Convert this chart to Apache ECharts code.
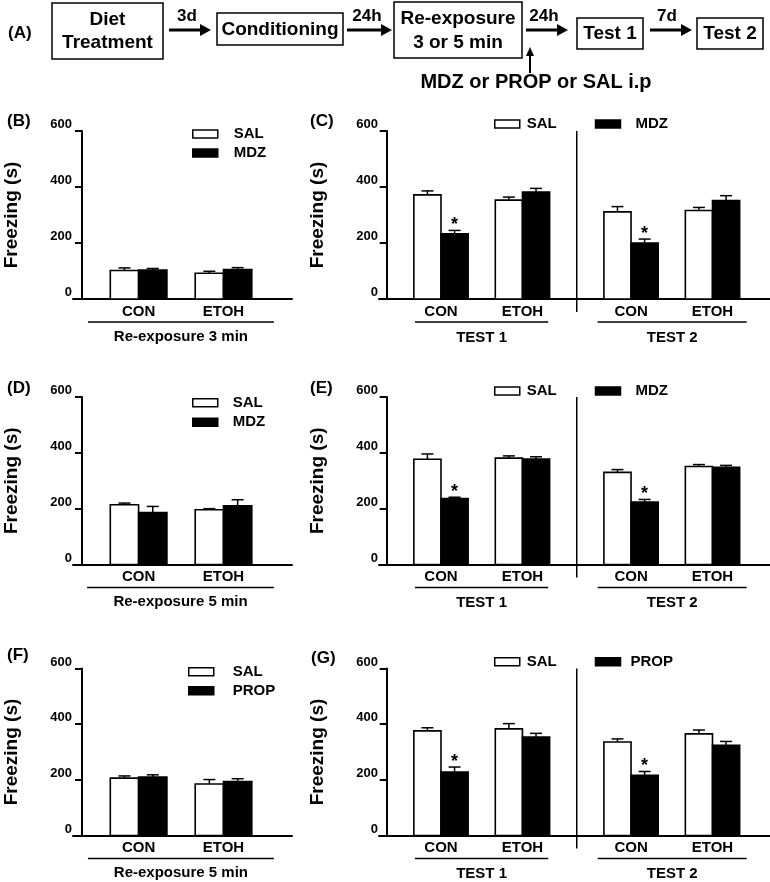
<!DOCTYPE html>
<html><head><meta charset="utf-8">
<script src="https://cdn.jsdelivr.net/npm/echarts@6/dist/echarts.min.js"></script>
<style>html,body{margin:0;padding:0;background:#fff}#c{width:770px;height:882px}</style>
</head><body><div id="c"></div>
<script>
// ---------------- data ----------------
const groups = ['CON', 'ETOH'];
const testNames = ['TEST 1', 'TEST 2'];
const yTicks = [0, 200, 400, 600];
// (B) re-exposure 3 min
const B_SAL = [102, 92], B_SAL_ERR = [9, 7];
const B_MDZ = [103, 105], B_MDZ_ERR = [6, 7];
// (C) order: TEST1 CON, TEST1 ETOH, TEST2 CON, TEST2 ETOH
const C_SAL = [372, 353, 311, 316], C_SAL_ERR = [14, 11, 19, 11];
const C_MDZ = [233, 382, 200, 352], C_MDZ_ERR = [12, 13, 14, 17];
const C_SIG = [1, 0, 1, 0];
// (D) re-exposure 5 min
const D_SAL = [214, 196], D_SAL_ERR = [6, 4];
const D_MDZ = [186, 210], D_MDZ_ERR = [22, 22];
// (E)
const E_SAL = [377, 381, 330, 351], E_SAL_ERR = [19, 8, 10, 7];
const E_MDZ = [236, 378, 224, 348], E_MDZ_ERR = [5, 8, 9, 7];
const E_SIG = [1, 0, 1, 0];
// (F) re-exposure 5 min
const F_SAL = [206, 185], F_SAL_ERR = [8, 16];
const F_PROP = [210, 194], F_PROP_ERR = [8, 10];
// (G)
const G_SAL = [376, 383, 336, 365], G_SAL_ERR = [11, 19, 11, 14];
const G_PROP = [228, 354, 216, 324], G_PROP_ERR = [18, 13, 14, 14];
const G_SIG = [1, 0, 1, 0];

// ---------------- layout ----------------
const FONT = "'Liberation Sans', Arial, Helvetica, sans-serif";
const COL_L = {left: 73, right: 292, axisX: 82, unit: 28.3, centers: [2, 5], titleDy: 37.5};
const COL_R = {left: 379, right: 770, axisX: 386.7, unit: 27.15, centers: [2, 5, 9, 12], sep: 7, titleDy: 38.5};
const ROWS = [{top: 131, h: 168}, {top: 397, h: 167.5}, {top: 668.5, h: 167}];

const panels = [
  {col: COL_L, row: 0, drug: 'MDZ', sal: B_SAL, salErr: B_SAL_ERR, dv: B_MDZ, de: B_MDZ_ERR, sig: null,
   titles: ['Re-exposure 3 min'], spans: [[0.21, 6.78]], lg: {orient: 'vertical', left: 192, top: 126.5, gap: 4, padS: 11, padD: 11}},
  {col: COL_R, row: 0, drug: 'MDZ', sal: C_SAL, salErr: C_SAL_ERR, dv: C_MDZ, de: C_MDZ_ERR, sig: C_SIG,
   titles: testNames, spans: [[1.04, 5.95], [7.77, 13.26]], lg: {orient: 'horizontal', left: 494, top: 116.5, gap: 38, padS: 2, padD: 10}},
  {col: COL_L, row: 1, drug: 'MDZ', sal: D_SAL, salErr: D_SAL_ERR, dv: D_MDZ, de: D_MDZ_ERR, sig: null,
   titles: ['Re-exposure 5 min'], spans: [[0.18, 6.78]], lg: {orient: 'vertical', left: 192, top: 395.2, gap: 4.6, padS: 10, padD: 10}},
  {col: COL_R, row: 1, drug: 'MDZ', sal: E_SAL, salErr: E_SAL_ERR, dv: E_MDZ, de: E_MDZ_ERR, sig: E_SIG,
   titles: testNames, spans: [[1.04, 5.95], [7.77, 13.26]], lg: {orient: 'horizontal', left: 494, top: 383.5, gap: 38, padS: 2, padD: 10}},
  {col: COL_L, row: 2, drug: 'PROP', sal: F_SAL, salErr: F_SAL_ERR, dv: F_PROP, de: F_PROP_ERR, sig: null,
   titles: ['Re-exposure 5 min'], spans: [[0.21, 6.78]], lg: {orient: 'vertical', left: 188, top: 664.2, gap: 4, padS: 14, padD: 14}},
  {col: COL_R, row: 2, drug: 'PROP', sal: G_SAL, salErr: G_SAL_ERR, dv: G_PROP, de: G_PROP_ERR, sig: G_SIG,
   titles: testNames, spans: [[1.04, 5.95], [7.77, 13.26]], lg: {orient: 'horizontal', left: 494, top: 654.2, gap: 38, padS: 2, padD: 5}}
];

const textBase = {fontFamily: FONT, fontWeight: 'bold', color: '#000'};

function barSeries(p, gi, name, vals, errs, fill, offset, sig) {
  const data = vals.map((v, i) => [p.col.centers[i] + offset, v, errs[i], sig ? sig[i] : 0]);
  return {
    type: 'custom', name, xAxisIndex: gi, yAxisIndex: gi, data, encode: {x: 0, y: 1},
    itemStyle: {color: fill, borderColor: '#000', borderWidth: 1.5},
    renderItem(params, api) {
      const x = api.value(0), v = api.value(1), e = api.value(2), s = api.value(3);
      const a = api.coord([x - 0.5, 0]), b = api.coord([x + 0.5, v]), t = api.coord([x, v + e]);
      const ch = [
        {type: 'line', shape: {x1: t[0], y1: b[1], x2: t[0], y2: t[1]}, style: {stroke: '#000', lineWidth: 1.5}},
        {type: 'line', shape: {x1: t[0] - 6, y1: t[1], x2: t[0] + 6, y2: t[1]}, style: {stroke: '#000', lineWidth: 1.5}},
        {type: 'rect', shape: {x: a[0], y: b[1], width: b[0] - a[0], height: a[1] - b[1]}, style: {fill: fill, stroke: '#000', lineWidth: 1.6}}
      ];
      if (s) ch.push({type: 'text', style: {text: '*', x: t[0], y: t[1] - 5, align: 'center', verticalAlign: 'middle',
        textAlign: 'center', textVerticalAlign: 'middle', fontSize: 18, fontWeight: 'bold', fontFamily: FONT, fill: '#000'}});
      return {type: 'group', children: ch};
    }
  };
}

function annotSeries(p, gi) {
  const data = p.spans.map(s => [(s[0] + s[1]) / 2, 0, s[0], s[1]]);
  return {
    type: 'custom', name: 'annot' + gi, xAxisIndex: gi, yAxisIndex: gi, data, encode: {x: 0, y: 1}, silent: true,
    renderItem(params, api) {
      const i = params.dataIndex;
      const a = api.coord([api.value(2), 0]), b = api.coord([api.value(3), 0]), c = api.coord([api.value(0), 0]);
      const ch = [
        {type: 'line', shape: {x1: a[0], y1: a[1] + 23, x2: b[0], y2: b[1] + 23}, style: {stroke: '#000', lineWidth: 1.5}},
        {type: 'text', style: {text: p.titles[i], x: c[0], y: c[1] + p.col.titleDy, align: 'center', verticalAlign: 'middle',
          textAlign: 'center', textVerticalAlign: 'middle', fontSize: 15, fontWeight: 'bold', fontFamily: FONT, fill: '#000'}}
      ];
      if (i === 0 && p.col.sep != null) {
        const t = api.coord([p.col.sep, 600]), d = api.coord([p.col.sep, 0]);
        ch.push({type: 'line', shape: {x1: t[0], y1: t[1], x2: d[0], y2: d[1] + 13}, style: {stroke: '#000', lineWidth: 1.5}});
      }
      return {type: 'group', children: ch};
    }
  };
}

const grid = [], xAxis = [], yAxis = [], series = [], legend = [];
panels.forEach((p, gi) => {
  const r = ROWS[p.row], c = p.col;
  grid.push({left: c.left, top: r.top, width: c.right - c.left, height: r.h, containLabel: false});
  xAxis.push({
    gridIndex: gi, type: 'value', min: (c.left - c.axisX) / c.unit, max: (c.right - c.axisX) / c.unit,
    axisLine: {show: true, onZero: true, lineStyle: {color: '#000', width: 2}},
    axisTick: {show: false}, splitLine: {show: false},
    axisLabel: {customValues: c.centers, formatter: v => groups[c.centers.indexOf(v) % 2], fontSize: 15, margin: 5, ...textBase}
  });
  yAxis.push({
    gridIndex: gi, type: 'value', min: yTicks[0], max: yTicks[yTicks.length - 1], interval: 200,
    axisLine: {show: true, onZero: true, lineStyle: {color: '#000', width: 2}},
    axisTick: {show: true, length: 7, lineStyle: {color: '#000', width: 2}},
    splitLine: {show: false},
    axisLabel: {fontSize: 13, margin: 1, verticalAlign: 'bottom', ...textBase},
    name: 'Freezing (s)', nameLocation: 'middle', nameGap: 52,
    nameTextStyle: {fontSize: 19, ...textBase}
  });
  series.push(barSeries(p, gi, 'SAL', p.sal, p.salErr, '#fff', -0.5, null));
  series.push(barSeries(p, gi, p.drug, p.dv, p.de, '#000', 0.5, p.sig));
  series.push(annotSeries(p, gi));
  legend.push({
    orient: p.lg.orient, left: p.lg.left, top: p.lg.top, itemWidth: 25, itemHeight: 8, itemGap: p.lg.gap,
    selectedMode: false, icon: 'rect', padding: 0,
    textStyle: {fontSize: 15, lineHeight: 15, ...textBase},
    data: [
      {name: 'SAL', itemStyle: {color: '#fff', borderColor: '#000', borderWidth: 1.5}, textStyle: {padding: [0, 0, 0, p.lg.padS]}},
      {name: p.drug, itemStyle: {color: '#000', borderColor: '#000', borderWidth: 1.5}, textStyle: {padding: [0, 0, 0, p.lg.padD]}}
    ]
  });
});

// ---------------- panel (A) flow diagram + panel letters ----------------
const g = [];
function txt(s, x, y, size, align) {
  g.push({type: 'text', x: 0, y: 0, style: {text: s, x: x, y: y, fill: '#000', font: 'bold ' + size + 'px ' + FONT,
    align: align || 'center', verticalAlign: 'middle', textAlign: align || 'center', textVerticalAlign: 'middle'}});
}
function box(x, y, w, h) {
  g.push({type: 'rect', shape: {x, y, width: w, height: h}, style: {fill: '#fff', stroke: '#000', lineWidth: 1.5}});
}
function hArrow(x1, x2, y) {
  g.push({type: 'line', shape: {x1, y1: y, x2: x2 - 8, y2: y}, style: {stroke: '#000', lineWidth: 3}});
  g.push({type: 'polygon', shape: {points: [[x2 - 11, y - 6], [x2, y], [x2 - 11, y + 6]]}, style: {fill: '#000'}});
}
function vArrow(x, y1, y2) {
  g.push({type: 'line', shape: {x1: x, y1, x2: x, y2: y2 + 7}, style: {stroke: '#000', lineWidth: 2}});
  g.push({type: 'polygon', shape: {points: [[x - 4, y2 + 9], [x, y2], [x + 4, y2 + 9]]}, style: {fill: '#000'}});
}
txt('(A)', 8, 33, 17, 'left');
box(52, 3, 111, 56); txt('Diet', 107.5, 20, 19); txt('Treatment', 107.5, 43, 19);
hArrow(169, 211, 30); txt('3d', 187, 16, 17);
box(217, 13, 126, 32); txt('Conditioning', 280, 30, 19);
hArrow(347, 392, 30); txt('24h', 367, 16, 17);
box(394, 2, 128, 56); txt('Re-exposure', 458, 19, 19); txt('3 or 5 min', 458, 43, 19);
hArrow(526, 568, 30); txt('24h', 544, 16, 17);
box(577, 18, 66, 31); txt('Test 1', 610, 33.5, 19);
hArrow(650, 692, 30); txt('7d', 667, 16, 17);
box(697, 18, 66, 31); txt('Test 2', 730, 33.5, 19);
vArrow(530, 73, 47);
txt('MDZ or PROP or SAL i.p', 536, 82, 20);
txt('(B)', 7, 121.7, 17, 'left');
txt('(C)', 310, 121.7, 17, 'left');
txt('(D)', 7, 388, 17, 'left');
txt('(E)', 310, 388, 17, 'left');
txt('(F)', 7, 655, 17, 'left');
txt('(G)', 311, 658, 17, 'left');

const chart = echarts.init(document.getElementById('c'), null, {renderer: 'canvas'});
chart.setOption({
  backgroundColor: '#fff', animation: false,
  grid, xAxis, yAxis, series, legend,
  graphic: {elements: g}
});
</script></body></html>
